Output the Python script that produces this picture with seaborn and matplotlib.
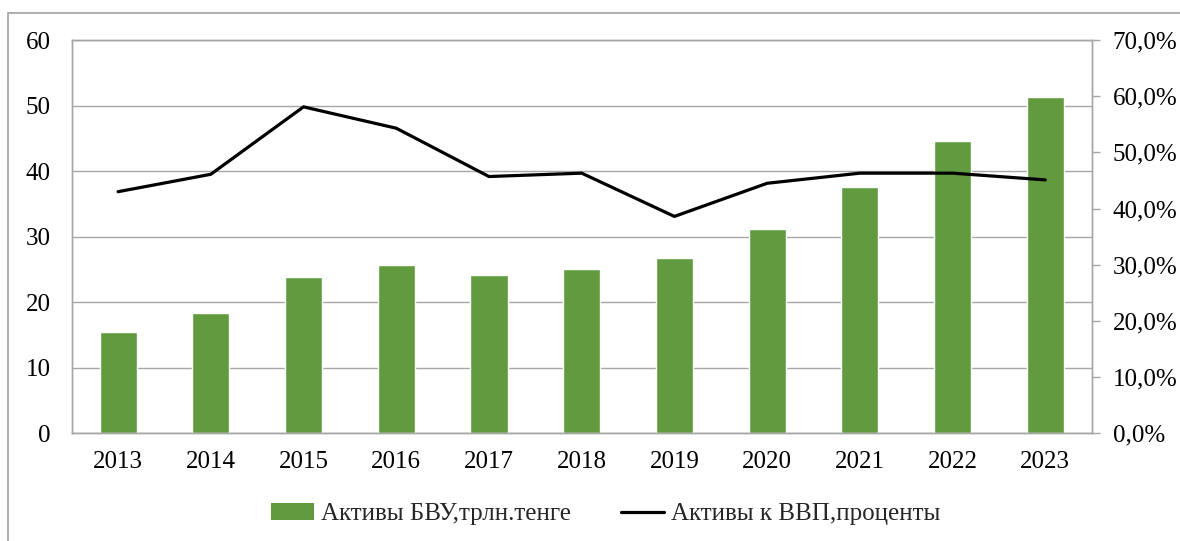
import matplotlib
matplotlib.use("Agg")
import matplotlib.pyplot as plt
import seaborn as sns
import numpy as np
import pandas as pd
from matplotlib.ticker import FuncFormatter, MultipleLocator
from matplotlib.patches import Rectangle, Patch
import matplotlib.lines as mlines

years = ["2013", "2014", "2015", "2016", "2017", "2018", "2019", "2020", "2021", "2022", "2023"]
assets = [15.4, 18.3, 23.8, 25.6, 24.1, 25.1, 26.7, 31.1, 37.5, 44.6, 51.3]
assets_gdp = [43.0, 46.1, 58.1, 54.3, 45.7, 46.3, 38.6, 44.5, 46.3, 46.3, 45.1]

bar_label = "Активы БВУ,трлн.тенге"
line_label = "Активы к ВВП,проценты"

sns.set_style("white")
plt.rcParams['font.family'] = ['Liberation Serif', 'DejaVu Serif']

green = "#629A3F"
grid_c = "#A6A6A6"
fs = 18

df = pd.DataFrame({"year": years, "assets": assets, "pct": assets_gdp})

fig = plt.figure(figsize=(11.8, 5.41), dpi=100)
ax = fig.add_axes([71.7/1180, 1 - 433.3/541, (1091.7-71.7)/1180, (433.3-40)/541])

sns.barplot(data=df, x="year", y="assets", color=green, width=0.4,
            saturation=1, ax=ax, zorder=2)
ax.set_xlim(-0.5, len(years) - 0.5)
ax.set_ylim(0, 60)
ax.yaxis.set_major_locator(MultipleLocator(10))
ax.grid(axis="y", color=grid_c, lw=1, zorder=0)
ax.set_axisbelow(True)
ax.set_xlabel("")
ax.set_ylabel("")
for s in ax.spines.values():
    s.set_color(grid_c)
    s.set_linewidth(1)
ax.tick_params(axis="y", length=0, pad=15, labelsize=fs, colors="black")
ax.tick_params(axis="x", length=0, pad=13, labelsize=fs, colors="black")

ax2 = ax.twinx()
sns.lineplot(x=np.arange(len(years)), y=df["pct"], color="black", lw=2.3, ax=ax2)
ax2.set_ylim(0, 70)
ax2.yaxis.set_major_locator(MultipleLocator(10))
ax2.yaxis.set_major_formatter(FuncFormatter(lambda v, p: f"{v:.1f}%".replace(".", ",")))
ax2.set_ylabel("")
ax2.grid(False)
for s in ax2.spines.values():
    s.set_color(grid_c)
    s.set_linewidth(1)
ax2.tick_params(axis="y", length=6, width=1, color=grid_c, pad=9, labelsize=fs, labelcolor="black")

# outer chart border (cut at right and bottom like the source)
fig.patches.append(Rectangle((8/1180, -0.1), 1.2, 1.1 - 13/541, transform=fig.transFigure,
                             fill=False, edgecolor="#A0A0A0", lw=1.2))

h1 = Patch(facecolor=green, edgecolor="none", label=bar_label)
h2 = mlines.Line2D([], [], color="black", lw=2.3, label=line_label)
fig.legend(handles=[h1, h2], loc="center", bbox_to_anchor=(606/1180, 1 - 514/541), ncol=2,
           frameon=False, fontsize=fs, handlelength=1.7, handletextpad=0.3, columnspacing=2.0)

fig.savefig("out.png", dpi=100)
